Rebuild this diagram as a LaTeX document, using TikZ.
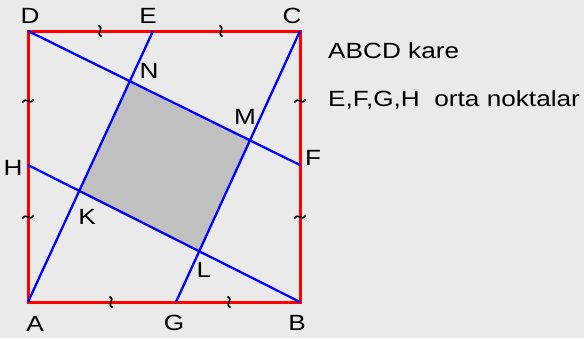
\documentclass[tikz,border=0pt]{standalone}
\usepackage{fontspec}
\setmainfont{Liberation Sans}
\usetikzlibrary{intersections}
\definecolor{bgray}{HTML}{EAEAEA}
\definecolor{kgray}{HTML}{C0C0C0}
\newcommand{\wide}[1]{\scalebox{1.19}[1]{#1}}

\begin{document}
\begin{tikzpicture}[x=1pt, y=-1pt,
  lbl/.style={font=\fontsize{22}{26}\selectfont, inner sep=0pt},
  side/.style={red, line width=3pt},
  cut/.style={blue, line width=2.3pt},
  wave/.style={black, line width=1.6pt}]
\fill[bgray] (0,0) rectangle (584,338);
\useasboundingbox (0,0) rectangle (584,338);
% corners and midpoints
\coordinate (A) at (28,302);
\coordinate (B) at (300,302);
\coordinate (C) at (300,31);
\coordinate (D) at (28,31);
\coordinate (E) at (153,31);
\coordinate (F) at (300,165);
\coordinate (G) at (176,302);
\coordinate (H) at (28,165);
\path[name path=df] (D) -- (F);
\path[name path=ae] (A) -- (E);
\path[name path=cg] (C) -- (G);
\path[name path=hb] (H) -- (B);
\path[name intersections={of=df and ae, by=N}];
\path[name intersections={of=df and cg, by=M}];
\path[name intersections={of=hb and cg, by=L}];
\path[name intersections={of=hb and ae, by=K}];
\fill[kgray] (N) -- (M) -- (L) -- (K) -- cycle;
\draw[side] (A) -- (B) -- (C) -- (D) -- cycle;
\draw[cut] (D) -- (F);
\draw[cut] (A) -- (E);
\draw[cut] (C) -- (G);
\draw[cut] (H) -- (B);
% equal marks
\foreach \x/\y/\r in {100/31/90, 221/31/90, 111/302/90, 229/302/90,
    28/101/0, 300/101/0, 28/217/0, 300/217/0}
  \draw[wave, shift={(\x,\y)}, rotate=\r]
    (-5.5,1.5) .. controls (-2,-5) and (2,5) .. (5.5,-1.5);
% point labels
\foreach \p/\x/\y in {D/30/16, E/148/16, C/292/16, A/35/324, G/174/323,
    B/297/323, H/13/168, F/313/158, K/87/217, L/204/270, N/149/71, M/245/117}
  \node[lbl] (lbl\p) at (\x,\y) {\wide{\p}};
\node[lbl, anchor=base west] (kare) at (328,58) {\wide{ABCD kare}};
\node[lbl, anchor=base west] (orta) at (328,106) {\wide{E,F,G,H\ \ orta noktalar}};
\end{tikzpicture}
\end{document}
